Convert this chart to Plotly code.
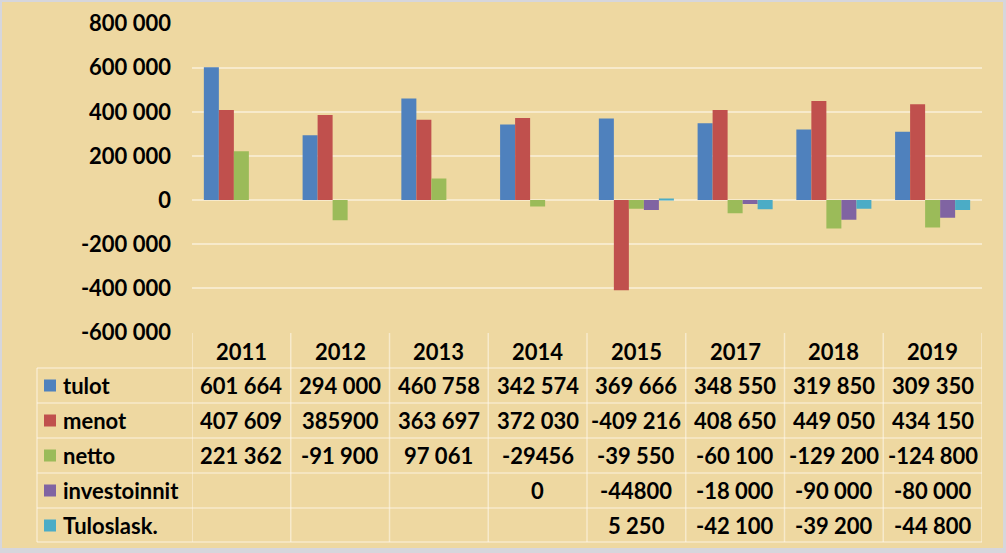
import plotly.graph_objects as go

# ---------------- data ----------------
years = ["2011", "2012", "2013", "2014", "2015", "2017", "2018", "2019"]
series_names = ["tulot", "menot", "netto", "investoinnit", "Tuloslask."]
tulot = [601664, 294000, 460758, 342574, 369666, 348550, 319850, 309350]
menot = [407609, 385900, 363697, 372030, -409216, 408650, 449050, 434150]
netto = [221362, -91900, 97061, -29456, -39550, -60100, -129200, -124800]
investoinnit = [None, None, None, 0, -44800, -18000, -90000, -80000]
tuloslask = [None, None, None, None, 5250, -42100, -39200, -44800]

# table texts as printed in the source
tulot_txt = ["601 664", "294 000", "460 758", "342 574", "369 666", "348 550", "319 850", "309 350"]
menot_txt = ["407 609", "385900", "363 697", "372 030", "-409 216", "408 650", "449 050", "434 150"]
netto_txt = ["221 362", "-91 900", "97 061", "-29456", "-39 550", "-60 100", "-129 200", "-124 800"]
invest_txt = ["", "", "", "0", "-44800", "-18 000", "-90 000", "-80 000"]
tulos_txt = ["", "", "", "", "5 250", "-42 100", "-39 200", "-44 800"]

tick_vals = [800000, 600000, 400000, 200000, 0, -200000, -400000, -600000]
tick_text = ["800 000", "600 000", "400 000", "200 000", "0", "-200 000", "-400 000", "-600 000"]

colors = ["#4F81BD", "#C0504D", "#9BBB59", "#8064A2", "#4BACC6"]

# ---------------- layout helpers ----------------
W, H = 1006, 553
def px(xp):
    return xp / W
def py(yp):
    return 1 - yp / H

FONT = "Lato"
BG = "#EED8A1"
LINE = "rgba(255,250,238,0.55)"
TXT = dict(family=FONT, size=22, color="#000000", weight=700)

fig = go.Figure()
values = [tulot, menot, netto, investoinnit, tuloslask]
xi = list(range(len(years)))
for name, vals, col in zip(series_names, values, colors):
    fig.add_trace(go.Bar(x=xi, y=vals, name=name, marker=dict(color=col, line=dict(width=0))))

plot_left, plot_right = 192, 982
plot_top, plot_bottom = 23.6, 332.3

fig.update_layout(
    width=W, height=H, autosize=False,
    margin=dict(l=0, r=0, t=0, b=0, pad=0, autoexpand=False),
    paper_bgcolor=BG, plot_bgcolor="rgba(0,0,0,0)",
    barmode="group", bargap=0.24, bargroupgap=0,
    showlegend=False,
    font=TXT,
    xaxis=dict(domain=[px(plot_left), px(plot_right)], range=[-0.5, len(years) - 0.5],
               showticklabels=False, showgrid=False, zeroline=False, showline=False,
               fixedrange=True, automargin=False),
    yaxis=dict(domain=[py(plot_bottom), py(plot_top)], range=[-600000, 800000],
               tickvals=tick_vals, ticktext=tick_text, ticks="", ticklabelstandoff=20,
               showgrid=True, gridcolor=LINE, gridwidth=1.5, automargin=False,
               zeroline=True, zerolinecolor=LINE, zerolinewidth=1.5, showline=False,
               tickfont=TXT),
)

shapes = []
annotations = []

# table geometry
header_top, header_bottom = 333, 368
row_h = 35
rows_top = header_bottom
n_rows = len(series_names)
table_bottom = rows_top + n_rows * row_h - 1
left_col_x = 37

for k in range(len(years) + 1):
    shapes.append(dict(type="line", xref="x", yref="paper", x0=k - 0.5, x1=k - 0.5,
                       y0=py(header_top), y1=py(table_bottom), line=dict(color=LINE, width=1.5)))
shapes.append(dict(type="line", xref="paper", yref="paper", x0=px(left_col_x), x1=px(left_col_x),
                   y0=py(rows_top), y1=py(table_bottom), line=dict(color=LINE, width=1.5)))
for r in range(n_rows + 1):
    yline = rows_top + r * row_h if r < n_rows else table_bottom
    shapes.append(dict(type="line", xref="paper", yref="paper", x0=px(left_col_x), x1=px(plot_right),
                       y0=py(yline), y1=py(yline), line=dict(color=LINE, width=1.5)))

for i, yr in enumerate(years):
    annotations.append(dict(x=i, y=py((header_top + header_bottom) / 2 + 1), xref="x", yref="paper",
                            text=yr, showarrow=False, xanchor="center", yanchor="middle", font=TXT))

texts = [tulot_txt, menot_txt, netto_txt, invest_txt, tulos_txt]
for r, (name, col, txts) in enumerate(zip(series_names, colors, texts)):
    yc = rows_top + r * row_h + row_h / 2
    shapes.append(dict(type="rect", xref="paper", yref="paper", x0=px(44), x1=px(56),
                       y0=py(yc + 6), y1=py(yc - 6), fillcolor=col, line=dict(width=0)))
    annotations.append(dict(x=px(61), y=py(yc), xref="paper", yref="paper", text=name,
                            showarrow=False, xanchor="left", yanchor="middle", font=TXT))
    for i, t in enumerate(txts):
        if t == "":
            continue
        annotations.append(dict(x=i, y=py(yc), xref="x", yref="paper", text=t,
                                showarrow=False, xanchor="center", yanchor="middle", font=TXT))

# outer frame (grey edges of the source image)
FRAME = "#D6D6DC"
shapes.append(dict(type="rect", xref="paper", yref="paper", x0=0, x1=1, y0=py(2), y1=1,
                   fillcolor=FRAME, line=dict(width=0)))
shapes.append(dict(type="rect", xref="paper", yref="paper", x0=0, x1=1, y0=0, y1=py(548),
                   fillcolor=FRAME, line=dict(width=0)))
shapes.append(dict(type="rect", xref="paper", yref="paper", x0=0, x1=px(2), y0=0, y1=1,
                   fillcolor=FRAME, line=dict(width=0)))
shapes.append(dict(type="rect", xref="paper", yref="paper", x0=px(1003), x1=1, y0=0, y1=1,
                   fillcolor=FRAME, line=dict(width=0)))

fig.update_layout(shapes=shapes, annotations=annotations)
fig.write_html("out.html")
